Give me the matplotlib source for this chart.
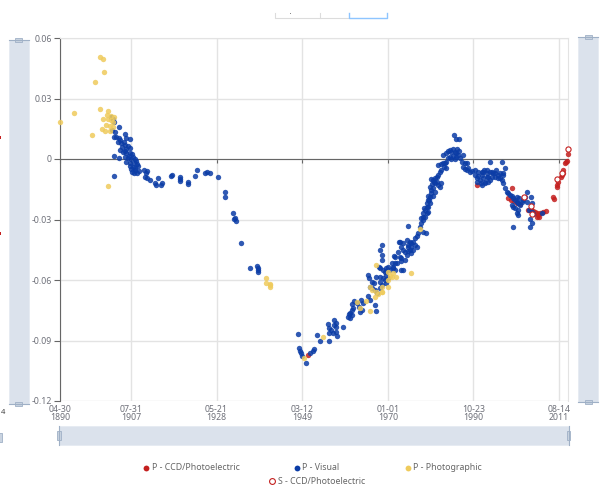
import numpy as np
import matplotlib
matplotlib.use('Agg')
import matplotlib.pyplot as plt
import matplotlib.dates as mdates
from matplotlib.patches import Rectangle
from matplotlib.lines import Line2D

plt.rcParams['font.family'] = ['Noto Sans', 'DejaVu Sans']

# (decimal year, O-C)
ccd_p = [
    (1950.62, -0.0972), (1991.56, -0.0130), (2000.30, -0.0145), (1999.25, -0.0195),
    (1999.83, -0.0203), (2000.63, -0.0207), (2001.29, -0.0217), (2002.09, -0.0223),
    (2004.11, -0.0253), (2004.69, -0.0249), (2005.32, -0.0256), (2005.73, -0.0261),
    (2006.15, -0.0269), (2006.54, -0.0278), (2006.95, -0.0266), (2007.76, -0.0261),
    (2008.41, -0.0256), (2006.15, -0.0289), (2006.78, -0.0286), (2010.04, -0.0190),
    (2010.35, -0.0200), (2011.01, -0.0137), (2011.16, -0.0129), (2011.40, -0.0113),
    (2011.98, -0.0088), (2012.23, -0.0079), (2012.47, -0.0071), (2012.62, -0.0055),
    (2013.03, -0.0021), (2013.27, -0.0013), (2013.44, -0.0008), (2013.83, 0.0025),
]

visual_p = [
    (1902.83, 0.0207), (1903.22, 0.0197), (1903.46, 0.0185), (1904.68, 0.0157),
    (1903.07, 0.0144), (1903.64, 0.0135), (1906.06, 0.0124), (1906.48, 0.0103),
    (1907.45, 0.0098), (1903.39, 0.0111), (1904.05, 0.0108), (1904.68, 0.0103),
    (1904.44, 0.0086), (1905.27, 0.0078), (1906.06, 0.0069), (1906.87, 0.0064),
    (1905.51, 0.0058), (1906.48, 0.0048), (1907.28, 0.0053), (1904.85, 0.0045),
    (1905.65, 0.0036), (1906.48, 0.0028), (1907.28, 0.0031), (1907.94, 0.0025),
    (1903.39, 0.0015), (1904.68, 0.0003), (1906.06, 0.0011), (1906.87, 0.0003),
    (1907.69, -0.0001), (1908.49, -0.0001), (1908.90, -0.0008), (1906.48, -0.0013),
    (1907.45, -0.0018), (1908.25, -0.0021), (1909.05, -0.0025), (1907.28, -0.0035),
    (1908.08, -0.0038), (1909.30, -0.0035), (1907.69, -0.0051), (1908.49, -0.0055),
    (1908.25, -0.0071), (1909.05, -0.0068), (1903.39, -0.0084), (1910.68, -0.0055),
    (1905.00, 0.0095), (1905.80, 0.0085), (1906.20, 0.0040), (1907.00, 0.0015),
    (1908.00, 0.0008), (1908.60, -0.0045), (1907.90, -0.0062), (1909.60, -0.0060),
    (1911.48, -0.0058), (1911.17, -0.0071), (1911.00, -0.0088), (1911.48, -0.0096),
    (1912.31, -0.0104), (1914.16, -0.0096), (1913.35, -0.0121), (1913.60, -0.0129),
    (1915.23, -0.0118), (1914.99, -0.0129), (1917.66, -0.0079), (1917.42, -0.0084),
    (1919.61, -0.0091), (1919.44, -0.0101), (1919.61, -0.0109), (1921.46, -0.0113),
    (1921.46, -0.0124), (1923.09, -0.0084), (1923.74, -0.0055), (1925.52, -0.0071),
    (1926.08, -0.0063), (1926.73, -0.0068), (1928.75, -0.0091), (1930.54, -0.0162),
    (1930.54, -0.0187), (1932.39, -0.0269), (1932.56, -0.0299), (1932.80, -0.0294),
    (1933.05, -0.0308), (1934.43, -0.0415), (1936.62, -0.0542), (1938.32, -0.0531),
    (1938.47, -0.0542), (1938.57, -0.0551), (1938.57, -0.0562),
    (1948.19, -0.0868), (1948.44, -0.0939), (1948.78, -0.0951), (1949.02, -0.0964),
    (1949.26, -0.0977), (1950.07, -0.1013), (1951.21, -0.0961), (1951.70, -0.0951),
    (1952.01, -0.0944), (1952.81, -0.0873), (1953.64, -0.0901), (1955.49, -0.0818),
    (1955.73, -0.0840), (1956.31, -0.0848), (1956.87, -0.0799), (1956.87, -0.0823),
    (1957.36, -0.0815), (1957.36, -0.0835), (1957.53, -0.0857), (1957.67, -0.0878),
    (1956.56, -0.0865), (1955.73, -0.0865), (1955.73, -0.0901), (1959.13, -0.0832),
    (1960.35, -0.0782), (1960.59, -0.0769), (1960.93, -0.0762), (1961.18, -0.0749),
    (1961.56, -0.0741), (1961.18, -0.0774), (1960.76, -0.0790), (1961.42, -0.0719),
    (1961.73, -0.0703), (1962.54, -0.0713), (1963.02, -0.0736), (1963.36, -0.0757),
    (1963.85, -0.0749), (1963.99, -0.0713), (1963.51, -0.0699), (1965.21, -0.0680),
    (1965.62, -0.0699), (1966.84, -0.0724), (1967.25, -0.0752), (1965.21, -0.0575),
    (1965.45, -0.0592), (1966.04, -0.0609), (1966.60, -0.0617), (1965.62, -0.0633),
    (1966.28, -0.0641), (1966.84, -0.0650), (1967.40, -0.0663), (1968.06, -0.0641),
    (1968.47, -0.0625), (1968.06, -0.0609), (1967.08, -0.0587), (1968.06, -0.0584),
    (1968.86, -0.0592), (1969.27, -0.0600), (1969.68, -0.0617), (1969.51, -0.0575),
    (1970.07, -0.0592), (1967.89, -0.0534), (1968.47, -0.0501), (1968.47, -0.0476),
    (1968.06, -0.0542), (1968.86, -0.0551), (1969.51, -0.0554), (1970.07, -0.0534),
    (1971.29, -0.0542), (1971.70, -0.0551), (1970.90, -0.0514), (1971.70, -0.0514),
    (1971.70, -0.0488), (1972.50, -0.0460), (1972.75, -0.0410), (1972.92, -0.0485),
    (1973.33, -0.0504), (1973.72, -0.0551), (1974.13, -0.0501), (1974.55, -0.0476),
    (1974.93, -0.0455), (1975.52, -0.0465), (1974.93, -0.0435), (1975.76, -0.0418),
    (1976.15, -0.0410), (1976.56, -0.0393), (1976.98, -0.0382), (1977.37, -0.0369),
    (1974.93, -0.0332), (1974.55, -0.0402), (1973.33, -0.0438), (1973.72, -0.0451),
    (1968.54, -0.0427), (1973.33, -0.0493), (1972.12, -0.0517), (1971.46, -0.0481),
    (1971.29, -0.0534), (1970.49, -0.0551), (1969.68, -0.0542), (1968.06, -0.0451),
    (1969.27, -0.0559), (1973.33, -0.0551), (1972.92, -0.0410), (1973.72, -0.0418),
    (1975.35, -0.0410), (1976.98, -0.0435), (1976.15, -0.0451), (1975.35, -0.0451),
    (1974.13, -0.0460), (1976.56, -0.0427), (1975.76, -0.0435), (1974.93, -0.0427),
    (1979.24, -0.0369), (1978.44, -0.0361), (1977.78, -0.0336), (1978.19, -0.0319),
    (1978.44, -0.0303), (1978.58, -0.0286), (1979.80, -0.0261), (1979.41, -0.0269),
    (1978.99, -0.0253), (1979.41, -0.0237), (1980.21, -0.0220), (1979.80, -0.0203),
    (1981.01, -0.0184), (1980.21, -0.0187), (1980.62, -0.0170), (1981.43, -0.0162),
    (1980.87, -0.0145), (1981.01, -0.0104), (1981.43, -0.0121), (1981.84, -0.0113),
    (1982.23, -0.0129), (1982.64, -0.0137), (1983.05, -0.0118), (1978.92, -0.0245),
    (1978.19, -0.0294), (1978.99, -0.0286), (1978.58, -0.0269), (1979.80, -0.0237),
    (1979.41, -0.0220), (1979.65, -0.0184), (1979.97, -0.0203), (1980.45, -0.0154),
    (1980.21, -0.0137), (1980.77, -0.0124), (1981.26, -0.0113), (1980.62, -0.0101),
    (1981.43, -0.0096), (1981.84, -0.0088), (1982.23, -0.0079), (1982.64, -0.0063),
    (1983.05, -0.0055), (1984.26, -0.0046), (1983.68, -0.0038), (1982.23, -0.0030),
    (1982.88, -0.0025), (1983.44, -0.0021), (1983.85, -0.0018), (1984.26, -0.0013),
    (1983.44, 0.0020), (1984.26, 0.0028), (1984.66, 0.0041), (1985.07, 0.0045),
    (1985.48, 0.0036), (1985.87, 0.0048), (1986.28, 0.0036), (1986.69, 0.0028),
    (1987.09, 0.0020), (1986.94, 0.0048), (1987.26, 0.0041), (1985.87, 0.0015),
    (1985.07, 0.0011), (1984.66, 0.0003), (1985.48, -0.0001), (1986.28, -0.0001),
    (1986.69, 0.0008), (1987.50, 0.0003), (1988.30, 0.0020), (1986.12, 0.0121),
    (1986.69, 0.0098), (1987.26, 0.0098), (1987.92, -0.0013), (1988.72, -0.0021),
    (1989.13, -0.0018), (1988.30, -0.0038), (1988.72, -0.0051), (1989.13, -0.0055),
    (1989.52, -0.0046), (1989.93, -0.0063), (1990.49, -0.0058), (1991.15, -0.0079),
    (1991.56, -0.0096), (1991.95, -0.0084), (1992.37, -0.0104), (1992.78, -0.0079),
    (1992.92, -0.0063), (1993.41, -0.0055), (1993.99, -0.0071), (1994.38, -0.0088),
    (1994.80, -0.0013), (1995.21, -0.0063), (1996.01, -0.0071), (1996.42, -0.0055),
    (1996.81, -0.0079), (1997.23, -0.0096), (1997.64, -0.0104), (1998.03, -0.0071),
    (1998.44, -0.0046), (1991.15, -0.0055), (1991.95, -0.0063), (1992.61, -0.0121),
    (1993.58, -0.0113), (1994.38, -0.0113), (1995.35, -0.0088), (1997.64, -0.0013),
    (1993.17, -0.0063), (1993.99, -0.0055), (1994.80, -0.0063), (1995.60, -0.0071),
    (1997.23, -0.0071), (1998.03, -0.0079), (1996.01, -0.0088), (1996.81, -0.0096),
    (1994.80, -0.0104), (1993.99, -0.0088), (1993.17, -0.0096), (1991.56, -0.0113),
    (1992.78, -0.0129), (1993.58, -0.0121), (1998.03, -0.0121), (1998.44, -0.0145),
    (1998.86, -0.0162), (1999.25, -0.0170), (1999.66, -0.0179), (2000.07, -0.0184),
    (2000.46, -0.0195), (2000.87, -0.0203), (2001.29, -0.0212), (2001.68, -0.0220),
    (2002.09, -0.0228), (2002.50, -0.0212), (2001.43, -0.0187), (2001.92, -0.0195),
    (2002.89, -0.0203), (2003.72, -0.0162), (2003.30, -0.0187), (2003.72, -0.0212),
    (2004.69, -0.0190), (2004.93, -0.0217), (2000.07, -0.0228), (2000.46, -0.0237),
    (2000.87, -0.0245), (2001.68, -0.0253), (2001.29, -0.0269), (2001.68, -0.0278),
    (2004.35, -0.0253), (2004.93, -0.0261), (2005.32, -0.0273), (2004.52, -0.0299),
    (2004.93, -0.0316), (2000.46, -0.0336), (2004.52, -0.0339), (2007.36, -0.0269),
]

photo_p = [
    (1900.16, 0.0507), (1900.89, 0.0497), (1901.13, 0.0432), (1898.95, 0.0382),
    (1893.83, 0.0227), (1890.26, 0.0185), (1900.16, 0.0249), (1902.10, 0.0240),
    (1901.76, 0.0220), (1902.83, 0.0213), (1903.39, 0.0207), (1900.79, 0.0197),
    (1902.01, 0.0197), (1902.83, 0.0193), (1903.22, 0.0185), (1901.45, 0.0169),
    (1902.42, 0.0164), (1903.22, 0.0160), (1900.65, 0.0147), (1901.21, 0.0140),
    (1902.59, 0.0140), (1898.05, 0.0119), (1901.93, -0.0134),
    (1940.51, -0.0589), (1940.51, -0.0617), (1941.31, -0.0620), (1941.31, -0.0633),
    (1941.48, -0.0626), (1949.58, -0.0989), (1954.13, -0.0881), (1962.54, -0.0708),
    (1963.36, -0.0741), (1964.65, -0.0703), (1965.79, -0.0752), (1965.62, -0.0633),
    (1966.28, -0.0650), (1967.25, -0.0658), (1967.64, -0.0670), (1968.47, -0.0658),
    (1966.84, -0.0683), (1970.07, -0.0633), (1967.08, -0.0526), (1970.07, -0.0559),
    (1970.49, -0.0580), (1971.29, -0.0567), (1971.94, -0.0584), (1975.76, -0.0567),
    (1977.78, -0.0349), (1970.07, -0.0600), (1968.47, -0.0633), (1968.71, -0.0658),
    (1970.90, -0.0584),
]

ccd_s = [
    (2003.06, -0.0190), (2004.69, -0.0233), (2004.93, -0.0273),
    (2011.01, -0.0101), (2012.23, -0.0071), (2013.68, 0.0051),
]

x_ticks = ['1890-04-30', '1907-07-31', '1928-05-21', '1949-03-12',
           '1970-01-01', '1990-10-23', '2011-08-14']
x_min, x_max = '1890-04-30', '2013-11-15'
y_ticks = [0.06, 0.03, 0, -0.03, -0.06, -0.09, -0.12]
y_labels = ['0.06', '0.03', '0', '-0.03', '-0.06', '-0.09', '-0.12']

red = '#c4201f'
blue = '#0b3ca6'
yellow = '#efcb5c'
gray_txt = '#6e7079'
grid_c = '#e3e3e3'

W, H = 600, 493


def yr2num(yr):
    # matplotlib date numbers are days since 1970-01-01
    return (np.asarray(yr) - 1970.0) * 365.25


def fx(x):
    return x / W


def fy(y):
    return 1 - y / H


fig = plt.figure(figsize=(W / 100, H / 100), dpi=100)
ax = fig.add_axes([fx(60), fy(401), (568.3 - 60) / W, (401 - 38) / H])

for pts, col in [(ccd_p, red), (visual_p, blue), (photo_p, yellow)]:
    a = np.array(pts)
    ax.scatter(yr2num(a[:, 0]), a[:, 1], s=15, color=col, alpha=0.85,
               linewidths=0, zorder=3, clip_on=False)
a = np.array(ccd_s)
ax.scatter(yr2num(a[:, 0]), a[:, 1], s=14, facecolors='white', edgecolors=red,
           linewidths=0.8, zorder=4, clip_on=False)

xt = mdates.datestr2num(x_ticks)
ax.set_xlim(mdates.datestr2num(x_min), mdates.datestr2num(x_max))
ax.set_ylim(-0.12, 0.06)
ax.set_xticks(xt)
ax.set_yticks(y_ticks)
ax.set_yticklabels(y_labels)
ax.grid(True, color=grid_c, linewidth=1, zorder=0)
ax.set_axisbelow(True)

# x axis line sits on zero, labels stay at the bottom
ax.spines['bottom'].set_position(('data', 0))
ax.spines['bottom'].set_color('#666666')
ax.spines['left'].set_color('#666666')
ax.spines['top'].set_color(grid_c)
ax.spines['right'].set_color(grid_c)
ax.tick_params(axis='x', length=3, color='#666666', labelbottom=False)
ax.tick_params(axis='y', length=4, color='#666666', labelsize=6.3,
               labelcolor=gray_txt, pad=2)

sec = ax.secondary_xaxis('bottom')
sec.set_xticks(xt)
sec.set_xticklabels([mdates.num2date(t).strftime('%m-%d\n%Y') for t in xt],
                    linespacing=0.9)
sec.spines['bottom'].set_visible(False)
sec.tick_params(length=0, labelsize=6.3, labelcolor=gray_txt, pad=3)

# data zoom sliders
slider_fill = '#dbe2ec'
handle_c = '#9fb0c6'


def add_rect(x0, y0, x1, y1, **kw):
    fig.add_artist(Rectangle((fx(x0), fy(y1)), fx(x1) - fx(x0), fy(y0) - fy(y1),
                             transform=fig.transFigure, **kw))


def add_line(xs, ys, **kw):
    fig.add_artist(Line2D([fx(v) for v in xs], [fy(v) for v in ys],
                          transform=fig.transFigure, **kw))


for x0, x1, y0, y1 in [(8.5, 28.5, 40, 404), (578, 598, 37, 402)]:
    add_rect(x0, y0, x1, y1, facecolor=slider_fill, edgecolor='#e6ebf2', lw=0.6)
    for yy in (y0, y1):
        add_line([x0, x1], [yy, yy], color=handle_c, lw=0.8)
        add_rect((x0 + x1) / 2 - 3.5, yy - 1.8, (x0 + x1) / 2 + 3.5, yy + 1.8,
                 facecolor='#c9d3e0', edgecolor=handle_c, lw=0.6)

add_rect(59, 426, 569, 445, facecolor=slider_fill, edgecolor='#e6ebf2', lw=0.6)
for xx in (59, 568.5):
    add_line([xx, xx], [426, 445], color=handle_c, lw=0.8)
    add_rect(xx - 1.8, 431, xx + 1.8, 440, facecolor='#c9d3e0',
             edgecolor=handle_c, lw=0.6)
add_rect(-2, 433, 1.5, 442, facecolor='#c9d3e0', edgecolor=handle_c, lw=0.6)

# bits along the left edge
add_rect(-1, 135.5, 1.2, 138.5, facecolor=red, edgecolor='none')
add_rect(-1, 232, 1.2, 235, facecolor=red, edgecolor='none')
fig.text(fx(0.5), fy(413), '4', fontsize=5.5, color='#444444',
         ha='left', va='center')

# toolbox fragment at the top
add_line([275, 275, 348], [12.5, 18.3, 18.3], color='#dcdcdc', lw=0.8)
add_line([320, 320], [12.5, 18.3], color='#dcdcdc', lw=0.8)
add_line([349, 349, 387, 387], [12.5, 18.3, 18.3, 12.5], color='#8ec5ff', lw=1.0)
add_rect(289.5, 12.5, 290.7, 13.7, facecolor='#888888', edgecolor='none')

# legend
legend_items = [
    ('P - CCD/Photoelectric', 146, 467.5, red, True),
    ('P - Visual', 297, 467.5, blue, True),
    ('P - Photographic', 407.5, 467.5, yellow, True),
    ('S - CCD/Photoelectric', 272, 481, red, False),
]
for label, lx, ly, col, filled in legend_items:
    fig.add_artist(Line2D([fx(lx)], [fy(ly)], marker='o', markersize=4.2,
                          markerfacecolor=col if filled else 'white',
                          markeredgecolor=col, markeredgewidth=0.8 if not filled else 0,
                          linestyle='none', transform=fig.transFigure))
    fig.text(fx(lx + 5.5), fy(ly), label, fontsize=6.3, color='#666666',
             ha='left', va='center')

fig.savefig('out.png', dpi=100)
